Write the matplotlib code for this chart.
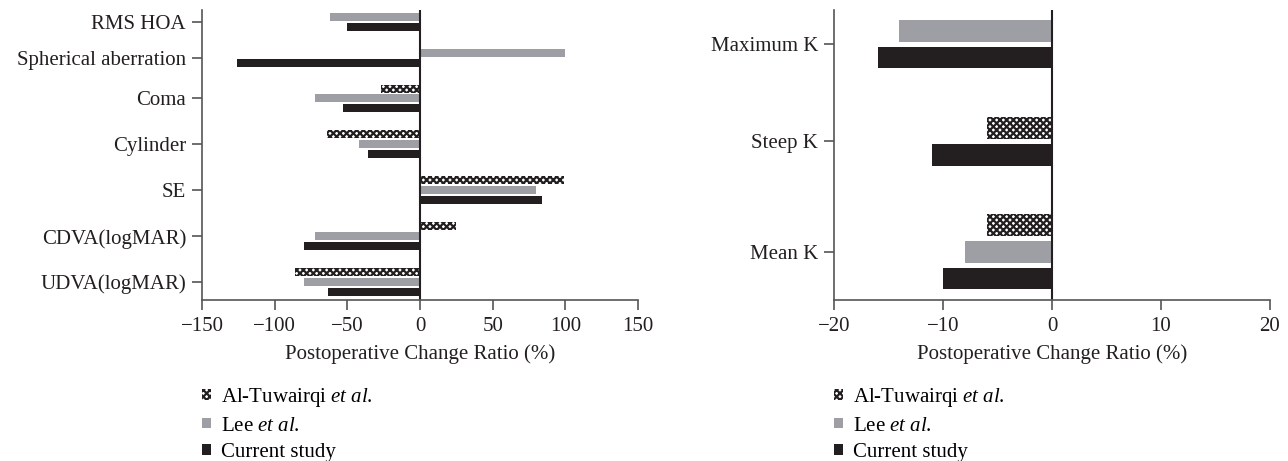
import numpy as np
import matplotlib.pyplot as plt

plt.rcParams['font.family'] = ['Liberation Serif', 'DejaVu Serif']
plt.rcParams['mathtext.fontset'] = 'custom'
plt.rcParams['mathtext.rm'] = 'Liberation Serif'
plt.rcParams['mathtext.it'] = 'Liberation Serif:italic'
plt.rcParams['hatch.linewidth'] = 1.6

# left panel
left_cats = ["RMS HOA", "Spherical aberration", "Coma", "Cylinder", "SE",
             "CDVA(logMAR)", "UDVA(logMAR)"]
left_tuwairqi = [None, None, -27, -64, 99, 25, -86]
left_lee = [-62, 100, -72, -42, 80, -72, -80]
left_current = [-50, -126, -53, -36, 84, -80, -63]

# right panel
right_cats = ["Maximum K", "Steep K", "Mean K"]
right_tuwairqi = [None, -6, -6]
right_lee = [-14, None, -8]
right_current = [-16, -11, -10]

labels = ["Al-Tuwairqi $\\mathit{et\\ al.}$", "Lee $\\mathit{et\\ al.}$", "Current study"]
colors = ["white", "#9d9fa5", "#231f20"]
hatches = ["xxxxx", None, None]

FS = 15
W, H = 1288, 461
fig = plt.figure(figsize=(W / 100, H / 100), dpi=100)


def draw(ax, cats, series, xlim, xticks, top_pad, bot_pad):
    gap = 1.6
    counts = [sum(s[i] is not None for s in series) for i in range(len(cats))]
    centers = []
    pos = 0.0
    for i, n in enumerate(counts):
        if i > 0:
            pos += (counts[i - 1] + n) / 2 + gap
        centers.append(pos)
    handles = [None] * 3
    for i, c in enumerate(centers):
        present = [k for k in range(3) if series[k][i] is not None]
        n = len(present)
        for j, k in enumerate(present):
            y = c + j - (n - 1) / 2
            b = ax.barh(y, series[k][i], height=0.8, color=colors[k],
                        hatch=hatches[k], edgecolor="#231f20" if hatches[k] else colors[k],
                        linewidth=0)
            handles[k] = b
    ax.set_yticks(centers)
    ax.set_yticklabels(cats)
    ax.set_ylim(centers[-1] + bot_pad, centers[0] - top_pad)
    ax.set_xlim(*xlim)
    ax.set_xticks(xticks)
    ax.set_xticklabels([str(t).replace("-", "\u2212") for t in xticks])
    ax.axvline(0, color="#231f20", lw=1.5)
    for s in ["top", "right"]:
        ax.spines[s].set_visible(False)
    for s in ["left", "bottom"]:
        ax.spines[s].set_color("#555555")
        ax.spines[s].set_linewidth(1.2)
    ax.tick_params(axis="both", length=7.5, width=1.2, color="#555555",
                   labelsize=FS, colors="#231f20")
    ax.tick_params(axis="x", pad=5)
    ax.tick_params(axis="y", pad=4)
    ax.set_xlabel("Postoperative Change Ratio (%)", fontsize=FS, labelpad=6,
                  color="#231f20")
    return handles


ax1 = fig.add_axes([202 / W, 1 - 300 / H, 436 / W, 290 / H])
h1 = draw(ax1, left_cats, [left_tuwairqi, left_lee, left_current],
          (-150, 150), [-150, -100, -50, 0, 50, 100, 150], 1.17, 1.8)
ax2 = fig.add_axes([834 / W, 1 - 300 / H, 436 / W, 290 / H])
h2 = draw(ax2, right_cats, [right_tuwairqi, right_lee, right_current],
          (-20, 20), [-20, -10, 0, 10, 20], 1.27, 1.79)

for ax, h, x0 in [(ax1, h1, 202 / W), (ax2, h2, 834 / W)]:
    fig.legend(h, labels, loc="upper left", bbox_to_anchor=(x0, 1 - 386 / H),
               frameon=False, fontsize=FS, handlelength=0.42, handleheight=0.42,
               handletextpad=0.5, labelspacing=0.36, borderpad=0,
               borderaxespad=0)

fig.savefig("out.png", dpi=100)
